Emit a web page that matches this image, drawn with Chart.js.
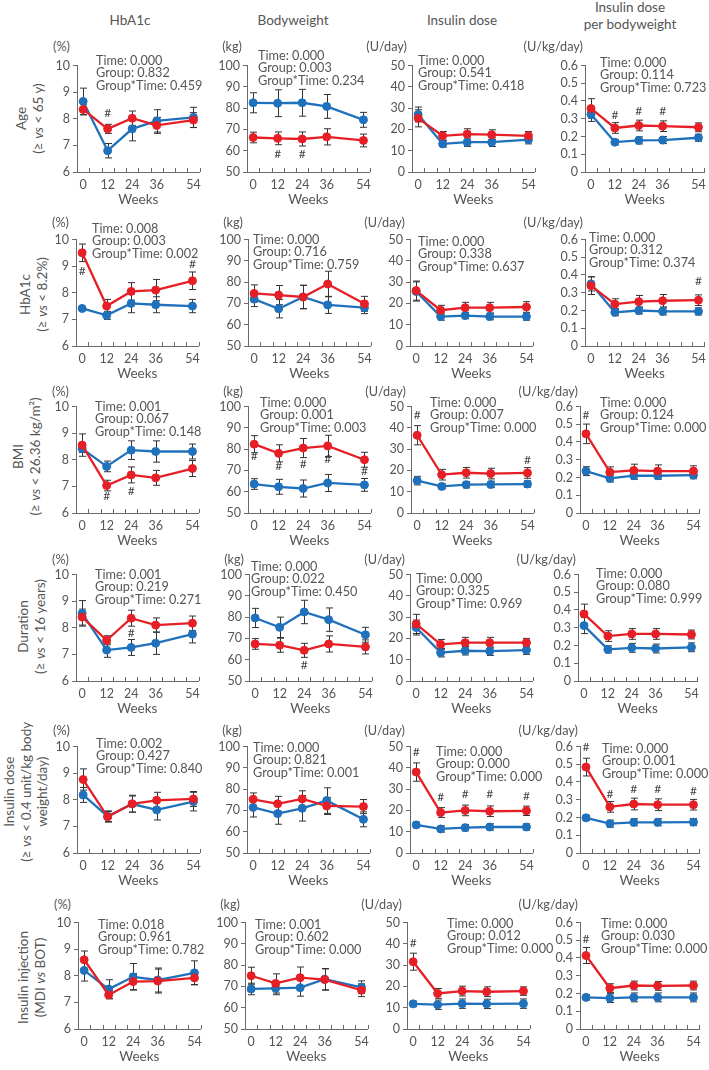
<!DOCTYPE html>
<html>
<head>
<meta charset="utf-8">
<script src="https://cdn.jsdelivr.net/npm/chart.js@4.4.1/dist/chart.umd.min.js"></script>
<style>
    body { margin: 0; background: #fff; }
    #page { position: relative; width: 709px; height: 1070px; overflow: hidden; font-family: Lato, "Open Sans", sans-serif; color: #555; }
    #page canvas { position: absolute; }
    .txt { position: absolute; white-space: nowrap; font-size: 12.7px; line-height: 12.4px; }
    .title { font-size: 13.5px; line-height: 17px; text-align: center; width: 140px; }
    .rowlabel { font-size: 13.5px; line-height: 16.5px; text-align: center; width: 170px; transform: rotate(-90deg); }
</style>
</head>
<body>
<div id="page"></div>
<script>
// ---- data ----
const weeks = [0, 12, 24, 36, 54];
const weekMinorTicks = [3, 9, 15, 21, 27, 33, 39, 45, 51, 57];
const columnTitles = [["HbA1c"], ["Bodyweight"], ["Insulin dose"], ["Insulin dose", "per bodyweight"]];
const unitLabels = ["(%)", "(kg)", "(U/day)", "(U/kg/day)"];
const hba1cTicks = [6, 7, 8, 9, 10];
const weightTicks = [50, 60, 70, 80, 90, 100];
const doseTicks = [0, 10, 20, 30, 40, 50];
const perKgTicks = [0, 0.1, 0.2, 0.3, 0.4, 0.5, 0.6];
const rowLabels = [
    ["Age", "(≥ vs < 65 y)"],
    ["HbA1c", "(≥ vs < 8.2%)"],
    ["BMI", "(≥ vs < 26.36 kg/m²)"],
    ["Duration", "(≥ vs < 16 years)"],
    ["Insulin dose", "(≥ vs < 0.4 unit/kg body", "weight/day)"],
    ["Insulin injection", "(MDI vs BOT)"]
];

// each row: one list per column (HbA1c, bodyweight, insulin dose, dose per bodyweight)
const ageBlueMean = [[8.65, 6.8, 7.62, 7.92, 8.05], [82.5, 82.3, 82.5, 80.8, 74.5], [27.0, 13.2, 14.0, 14.0, 15.2], [0.325, 0.168, 0.178, 0.18, 0.193]];
const ageBlueErr = [[0.5, 0.27, 0.45, 0.42, 0.38], [4.7, 6.3, 6.3, 5.6, 3.5], [3.5, 1.5, 2.0, 2.0, 2.0], [0.04, 0.015, 0.02, 0.02, 0.02]];
const ageRedMean = [[8.35, 7.62, 8.02, 7.75, 7.95], [66.2, 65.8, 65.5, 66.5, 64.8], [25.2, 17.0, 17.8, 17.5, 17.0], [0.358, 0.248, 0.262, 0.258, 0.252]];
const ageRedErr = [[0.2, 0.17, 0.27, 0.3, 0.28], [2.5, 3.0, 3.3, 3.8, 3.0], [4.0, 2.0, 2.5, 2.3, 2.0], [0.055, 0.03, 0.03, 0.03, 0.025]];
const ageP = [["0.000", "0.832", "0.459"], ["0.000", "0.003", "0.234"], ["0.000", "0.541", "0.418"], ["0.000", "0.114", "0.723"]];
const ageHash = [[[12, 8.2]], [[12, 58.3], [24, 58.3]], [], [[12, 0.322], [24, 0.341], [36, 0.341]]];

const hba1cBlueMean = [[7.41, 7.15, 7.6, 7.55, 7.5], [72.0, 67.5, 73.0, 69.3, 68.0], [25.6, 13.8, 14.3, 13.8, 13.8], [0.35, 0.19, 0.2, 0.195, 0.195]];
const hba1cBlueErr = [[0.08, 0.15, 0.35, 0.3, 0.25], [3.5, 4.3, 5.5, 4.0, 2.8], [4.5, 1.7, 1.5, 1.5, 1.7], [0.04, 0.02, 0.02, 0.02, 0.02]];
const hba1cRedMean = [[9.5, 7.5, 8.05, 8.1, 8.45], [74.7, 73.9, 73.0, 79.1, 69.8], [26.0, 16.8, 18.0, 18.0, 18.3], [0.34, 0.236, 0.25, 0.255, 0.258]];
const hba1cRedErr = [[0.33, 0.25, 0.33, 0.4, 0.33], [4.0, 4.5, 5.5, 6.0, 3.5], [4.5, 2.3, 2.5, 2.5, 2.5], [0.05, 0.03, 0.035, 0.035, 0.03]];
const hba1cP = [["0.008", "0.003", "0.002"], ["0.000", "0.716", "0.759"], ["0.000", "0.338", "0.637"], ["0.000", "0.312", "0.374"]];
const hba1cHash = [[[0, 8.83], [54, 9.08]], [], [], [[54, 0.363]]];

const bmiBlueMean = [[8.42, 7.75, 8.36, 8.31, 8.31], [63.6, 62.3, 61.5, 64.1, 63.2], [15.2, 12.5, 13.3, 13.4, 13.6], [0.236, 0.195, 0.21, 0.21, 0.213]];
const bmiBlueErr = [[0.15, 0.2, 0.35, 0.4, 0.28], [2.5, 3.5, 4.0, 4.0, 3.0], [2.0, 1.2, 1.5, 1.5, 1.5], [0.025, 0.02, 0.02, 0.02, 0.02]];
const bmiRedMean = [[8.55, 7.03, 7.43, 7.32, 7.67], [82.3, 78.0, 80.5, 81.5, 75.0], [36.5, 18.0, 18.9, 18.5, 18.8], [0.446, 0.23, 0.24, 0.236, 0.236]];
const bmiRedErr = [[0.42, 0.2, 0.3, 0.28, 0.3], [4.0, 4.0, 4.5, 5.0, 3.5], [4.5, 2.5, 2.5, 2.5, 2.5], [0.055, 0.03, 0.035, 0.035, 0.03]];
const bmiP = [["0.001", "0.067", "0.148"], ["0.000", "0.001", "0.003"], ["0.000", "0.007", "0.000"], ["0.000", "0.124", "0.000"]];
const bmiHash = [[[12, 6.63], [24, 6.84]], [[0, 76.9], [12, 72.2], [24, 73.0], [36, 75.3], [54, 69.8]], [[0, 45.9], [54, 24.8]], [[0, 0.551]]];

const durBlueMean = [[8.54, 7.16, 7.26, 7.42, 7.76], [79.6, 75.2, 82.4, 78.8, 71.7], [25.1, 13.3, 14.2, 14.0, 14.5], [0.312, 0.178, 0.187, 0.183, 0.19]];
const durBlueErr = [[0.48, 0.27, 0.3, 0.42, 0.33], [4.5, 4.8, 5.5, 5.5, 3.5], [3.5, 2.0, 2.0, 2.0, 2.0], [0.045, 0.02, 0.025, 0.025, 0.025]];
const durRedMean = [[8.4, 7.53, 8.36, 8.1, 8.17], [67.4, 66.8, 64.4, 67.4, 66.0], [26.8, 17.2, 18.0, 18.0, 18.0], [0.378, 0.253, 0.265, 0.265, 0.262]];
const durRedErr = [[0.3, 0.17, 0.3, 0.27, 0.27], [2.5, 3.3, 3.3, 3.8, 3.3], [4.5, 2.3, 2.5, 2.5, 2.0], [0.055, 0.03, 0.03, 0.03, 0.025]];
const durP = [["0.001", "0.219", "0.271"], ["0.000", "0.022", "0.450"], ["0.000", "0.325", "0.969"], ["0.000", "0.080", "0.999"]];
const durHash = [[[24, 7.79]], [[24, 57.5]], [], []];

const doseBlueMean = [[8.18, 7.38, 7.84, 7.62, 7.93], [71.4, 68.5, 71.0, 74.6, 65.8], [13.2, 11.3, 11.9, 12.2, 12.2], [0.198, 0.165, 0.173, 0.173, 0.174]];
const doseBlueErr = [[0.28, 0.2, 0.3, 0.38, 0.35], [4.5, 5.0, 6.0, 6.0, 3.5], [1.3, 1.5, 1.5, 1.5, 1.5], [0.015, 0.02, 0.02, 0.02, 0.02]];
const doseRedMean = [[8.76, 7.36, 7.85, 7.98, 8.03], [75.2, 73.1, 75.4, 72.1, 71.8], [38.0, 19.0, 20.0, 19.6, 19.8], [0.484, 0.26, 0.276, 0.272, 0.272]];
const doseRedErr = [[0.4, 0.2, 0.32, 0.3, 0.28], [3.0, 3.5, 3.8, 4.0, 3.3], [4.3, 2.3, 2.5, 2.5, 2.2], [0.05, 0.03, 0.033, 0.033, 0.03]];
const doseP = [["0.002", "0.427", "0.840"], ["0.000", "0.821", "0.001"], ["0.000", "0.000", "0.000"], ["0.000", "0.001", "0.000"]];
const doseHash = [[], [], [[0, 47.3], [12, 26.0], [24, 27.6], [36, 27.6], [54, 26.8]], [[0, 0.594], [12, 0.333], [24, 0.362], [36, 0.362], [54, 0.347]]];

const injBlueMean = [[8.2, 7.5, 7.96, 7.84, 8.11], [68.8, 69.1, 69.4, 73.4, 69.6], [11.8, 11.4, 11.9, 11.8, 11.9], [0.178, 0.174, 0.178, 0.178, 0.178]];
const injBlueErr = [[0.4, 0.35, 0.5, 0.45, 0.45], [2.7, 3.0, 4.0, 5.0, 3.0], [1.3, 2.2, 2.2, 2.2, 2.2], [0.015, 0.025, 0.025, 0.025, 0.025]];
const injRedMean = [[8.6, 7.28, 7.78, 7.8, 7.92], [75.0, 71.4, 74.1, 73.2, 68.2], [31.6, 16.7, 17.8, 17.5, 17.8], [0.414, 0.23, 0.245, 0.243, 0.245]];
const injRedErr = [[0.33, 0.15, 0.3, 0.45, 0.25], [4.0, 4.5, 5.0, 5.0, 3.0], [4.0, 2.3, 2.3, 2.3, 2.0], [0.045, 0.025, 0.025, 0.025, 0.025]];
const injP = [["0.018", "0.961", "0.782"], ["0.001", "0.602", "0.000"], ["0.000", "0.012", "0.000"], ["0.000", "0.030", "0.000"]];
const injHash = [[], [], [[0, 40.2]], [[0, 0.505]]];

// ---- layout ----
const rowTop = [65, 239, 406, 574, 746, 922];
const plotH = 107;
const plotW = [123, 123, 123, 120];
const colLeft = [
    [77, 247, 412, 585], [76, 248, 410, 585], [76, 248, 411, 580],
    [76, 249, 410, 578], [77, 247, 410, 580], [78, 245, 407, 580]
];
const pTextPos = [
    [[96, 60], [258, 55], [418, 60], [600, 62]],
    [[92, 228], [253, 239], [418, 241], [589, 237]],
    [[95, 406], [260, 402], [430, 402], [600, 402]],
    [[95, 574], [251, 566], [416, 578], [596, 573]],
    [[96, 743], [253, 747], [436, 751], [602, 748]],
    [[98, 924], [255, 924], [447, 923], [601, 923]]
];
const unitY = [47, 223, 392, 560, 731, 905];
const unitRightGap = [7, 5, 5, 2];
const titlePos = [[130, 20], [293, 20], [462, 20], [630, 16]];
const rowLabelPos = [[29, 118], [33, 294], [26, 456], [31, 626], [26, 792], [31, 977]];

const palette = { blue: "#1f71bc", red: "#e61f26", text: "#555", axis: "#6a6a6a", bar: "#333" };
const tickFont = { family: "Lato, 'Open Sans', sans-serif", size: 12.5 };
const Y_AXIS_W = 40, PAD_TOP = 10, PAD_RIGHT = 6, X_AXIS_H = 42;

const rows = [
    [ageBlueMean, ageBlueErr, ageRedMean, ageRedErr, ageP, ageHash],
    [hba1cBlueMean, hba1cBlueErr, hba1cRedMean, hba1cRedErr, hba1cP, hba1cHash],
    [bmiBlueMean, bmiBlueErr, bmiRedMean, bmiRedErr, bmiP, bmiHash],
    [durBlueMean, durBlueErr, durRedMean, durRedErr, durP, durHash],
    [doseBlueMean, doseBlueErr, doseRedMean, doseRedErr, doseP, doseHash],
    [injBlueMean, injBlueErr, injRedMean, injRedErr, injP, injHash]
];
const yTicks = [hba1cTicks, weightTicks, doseTicks, perKgTicks];

const page = document.getElementById("page");

function addText(lines, cls, style) {
    const div = document.createElement("div");
    div.className = "txt " + cls;
    lines.forEach(line => {
        const row = document.createElement("div");
        line.split(" vs ").forEach((part, i) => {
            if (i > 0) {
                row.append(" ");
                const it = document.createElement("i");
                it.textContent = "vs";
                row.append(it, " ");
            }
            row.append(part);
        });
        div.appendChild(row);
    });
    Object.assign(div.style, style);
    page.appendChild(div);
    return div;
}

const errorBars = {
    id: "errorBars",
    beforeDatasetsDraw(chart) {
        const ctx = chart.ctx;
        const y = chart.scales.y;
        ctx.save();
        ctx.strokeStyle = palette.bar;
        ctx.lineWidth = 1;
        chart.data.datasets.forEach((ds, di) => {
            chart.getDatasetMeta(di).data.forEach((pt, i) => {
                const top = y.getPixelForValue(ds.data[i].y + ds.errors[i]);
                const bot = y.getPixelForValue(ds.data[i].y - ds.errors[i]);
                const x = Math.round(pt.x) + 0.5;
                ctx.beginPath();
                ctx.moveTo(x, top); ctx.lineTo(x, bot);
                ctx.moveTo(x - 3.5, top); ctx.lineTo(x + 3.5, top);
                ctx.moveTo(x - 3.5, bot); ctx.lineTo(x + 3.5, bot);
                ctx.stroke();
            });
        });
        ctx.restore();
    }
};

const hashMarks = {
    id: "hashMarks",
    afterDatasetsDraw(chart, args, opts) {
        const ctx = chart.ctx;
        ctx.save();
        ctx.fillStyle = "#444";
        ctx.font = "12px Lato, sans-serif";
        ctx.textAlign = "center";
        ctx.textBaseline = "middle";
        (opts.marks || []).forEach(([wk, val]) => {
            ctx.fillText("#", chart.scales.x.getPixelForValue(wk), chart.scales.y.getPixelForValue(val));
        });
        ctx.restore();
    }
};

const minorTicks = {
    id: "minorTicks",
    afterDraw(chart, args, opts) {
        const ctx = chart.ctx;
        const bottom = chart.chartArea.bottom;
        ctx.save();
        ctx.strokeStyle = palette.axis;
        ctx.lineWidth = 1;
        ctx.beginPath();
        (opts.values || []).forEach(v => {
            const x = Math.round(chart.scales.x.getPixelForValue(v)) + 0.5;
            ctx.moveTo(x, bottom);
            ctx.lineTo(x, bottom - 4);
        });
        ctx.stroke();
        ctx.restore();
    }
};

function series(mean, err, color) {
    return {
        data: weeks.map((w, i) => ({ x: w, y: mean[i] })),
        errors: err,
        borderColor: color,
        backgroundColor: color,
        pointBackgroundColor: color,
        pointBorderColor: color,
        borderWidth: 2.3,
        pointRadius: 4,
        pointBorderWidth: 1,
        pointHoverRadius: 4,
        tension: 0
    };
}

function makePanel(r, c) {
    const [blueMean, blueErr, redMean, redErr, pVals, hash] = rows[r];
    const left = colLeft[r][c];
    const top = rowTop[r];
    const canvas = document.createElement("canvas");
    const w = Y_AXIS_W + plotW[c] + PAD_RIGHT;
    const h = PAD_TOP + plotH + X_AXIS_H;
    canvas.width = w;
    canvas.height = h;
    canvas.style.left = (left - Y_AXIS_W) + "px";
    canvas.style.top = (top - PAD_TOP) + "px";
    canvas.style.width = w + "px";
    canvas.style.height = h + "px";
    page.appendChild(canvas);

    const ticks = yTicks[c];
    new Chart(canvas, {
        type: "line",
        data: {
            datasets: [
                series(redMean[c], redErr[c], palette.red),
                series(blueMean[c], blueErr[c], palette.blue)
            ]
        },
        options: {
            responsive: false,
            animation: false,
            layout: { padding: { top: PAD_TOP, right: PAD_RIGHT, left: 0, bottom: 0 } },
            plugins: {
                legend: { display: false },
                tooltip: { enabled: false },
                hashMarks: { marks: hash[c] },
                minorTicks: { values: weekMinorTicks }
            },
            scales: {
                x: {
                    type: "linear",
                    min: -3,
                    max: 57,
                    afterBuildTicks: s => { s.ticks = weeks.map(v => ({ value: v })); },
                    afterFit: s => { s.height = X_AXIS_H; },
                    grid: { display: false, drawTicks: false },
                    border: { color: palette.axis, width: 1 },
                    ticks: { color: palette.text, font: tickFont, padding: 5, maxRotation: 0, autoSkip: false, callback: v => String(v) },
                    title: { display: true, text: "Weeks", color: palette.text, font: { family: tickFont.family, size: 13.5 }, padding: { top: 0, bottom: 6 } }
                },
                y: {
                    min: ticks[0],
                    max: ticks[ticks.length - 1],
                    afterBuildTicks: s => { s.ticks = ticks.map(v => ({ value: v })); },
                    afterFit: s => { s.width = Y_AXIS_W; },
                    grid: { drawOnChartArea: false, tickLength: 4, color: palette.axis },
                    border: { color: palette.axis, width: 1 },
                    ticks: { color: palette.text, font: tickFont, padding: 3, autoSkip: false, callback: v => String(v) }
                }
            }
        },
        plugins: [errorBars, hashMarks, minorTicks]
    });

    // unit label above the axis
    const unit = addText([unitLabels[c]], "", { top: (unitY[r] - 7) + "px", textAlign: "right", width: "80px" });
    unit.style.left = (left - unitRightGap[c] - 80) + "px";

    // p-values of the model terms
    const [px, py] = pTextPos[r][c];
    const p = pVals[c];
    addText(["Time: " + p[0], "Group: " + p[1], "Group*Time: " + p[2]], "", {
        left: px + "px", top: (py - 6) + "px"
    });
}

columnTitles.forEach((lines, c) => {
    const [cx, cy] = titlePos[c];
    addText(lines, "title", { left: (cx - 70) + "px", top: (cy - lines.length * 8.5) + "px" });
});

rowLabels.forEach((lines, r) => {
    const [cx, cy] = rowLabelPos[r];
    const h = lines.length * 16.5;
    addText(lines, "rowlabel", { left: (cx - 85) + "px", top: (cy - h / 2) + "px" });
});

for (let r = 0; r < rows.length; r++) {
    for (let c = 0; c < 4; c++) {
        makePanel(r, c);
    }
}
</script>
</body>
</html>
